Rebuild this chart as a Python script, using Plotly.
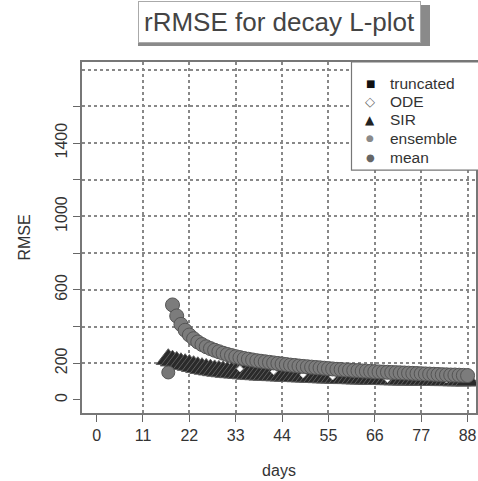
import plotly.graph_objects as go

# ---------------- data ----------------
mean_days = list(range(18, 89))
mean_vals = [518, 458, 412, 380, 354, 334, 316, 302, 290, 280, 271, 263, 255, 248, 242, 236,
             231, 226, 222, 218, 214, 211, 208, 205, 202, 199, 196, 193, 190, 188, 185, 183,
             181, 179, 177, 175, 173, 171, 169, 167, 166, 164, 163, 161, 160, 158, 157, 156,
             154, 153, 152, 151, 150, 149, 148, 147, 146, 145, 144, 143, 142, 141, 140, 139,
             138, 137, 136, 136, 135, 134, 133]

sir_days = list(range(17, 89))
sir_vals = [222, 214, 207, 200, 195, 190, 184, 178, 173, 169, 165, 161, 158, 155, 152, 150,
            148, 146, 144, 142, 140, 139, 137, 136, 135, 134, 133, 132, 131, 130, 129, 128,
            127, 126, 125, 124, 123, 122, 121, 121, 120, 119, 118, 118, 117, 116, 116, 115,
            114, 114, 113, 113, 112, 112, 111, 111, 110, 110, 110, 109, 109, 109, 108, 108,
            108, 107, 107, 107, 106, 106, 106, 105]

ode_days = [34, 42, 49, 56, 69, 83]
ode_vals = [170, 155, 137, 127, 112, 110]

ens_days = [17]
ens_vals = [150]

series_names = ["truncated", "ODE", "SIR", "ensemble", "mean"]
legend_glyphs = ["■", "◇", "▲", "●", "●"]
legend_colors = ["#111", "#666", "#222", "#8a8a8a", "#666"]
legend_sizes = [10, 13, 12, 9, 10]

x_ticks = [0, 11, 22, 33, 44, 55, 66, 77, 88]
x_grid = [11, 22, 33, 44, 55, 66, 77, 88]
y_ticks = [0, 200, 400, 600, 800, 1000, 1200, 1400, 1600]
y_labels = ["0", "200", "", "600", "", "1000", "", "1400", ""]
y_grid = [200, 400, 600, 800, 1000, 1200, 1400, 1600, 1800]

X_RANGE = [-3.47, 90.0]
Y_RANGE = [-71, 1842]

FONT = "Liberation Sans, Arial, sans-serif"

fig = go.Figure()

fig.add_trace(go.Scatter(x=sir_days, y=sir_vals, mode="markers", name="SIR",
                         marker=dict(symbol="triangle-up", color="#2a2a2a", size=21,
                                     line=dict(color="#5e5e5e", width=1))))
fig.add_trace(go.Scatter(x=ode_days, y=ode_vals, mode="markers", name="ODE",
                         marker=dict(symbol="diamond", color="white", size=5,
                                     line=dict(color="#bbb", width=1))))
fig.add_trace(go.Scatter(x=ens_days, y=ens_vals, mode="markers", name="ensemble",
                         marker=dict(symbol="circle", color="#777", size=13,
                                     line=dict(color="#555", width=1))))
fig.add_trace(go.Scatter(x=mean_days, y=mean_vals, mode="markers", name="mean",
                         marker=dict(symbol="circle", color="#7c7c7c", size=14,
                                     line=dict(color="#555", width=1))))
# invisible trace carrying the dotted-grid overlay axes
fig.add_trace(go.Scatter(x=[None], y=[None], xaxis="x2", yaxis="y2",
                         showlegend=False, hoverinfo="skip"))

fig.update_layout(
    width=478, height=481,
    margin=dict(l=82, r=0, t=62, b=68),
    paper_bgcolor="white", plot_bgcolor="white",
    font=dict(family=FONT, color="#333"),
    showlegend=False,
    xaxis=dict(range=X_RANGE, tickmode="array", tickvals=x_ticks,
               ticks="outside", ticklen=7, tickcolor="#666",
               showgrid=False, zeroline=False,
               showline=True, linecolor="#777", linewidth=1.5, mirror=True,
               tickfont=dict(size=16, color="#333"),
               title=dict(text="days", font=dict(size=16, color="#333"), standoff=22)),
    yaxis=dict(range=Y_RANGE, tickmode="array", tickvals=y_ticks, ticktext=y_labels,
               tickangle=-90, ticks="outside", ticklen=7, tickcolor="#666",
               showgrid=False, zeroline=False,
               showline=True, linecolor="#777", linewidth=1.5, mirror=True,
               tickfont=dict(size=16, color="#333"),
               title=dict(text="RMSE", font=dict(size=16, color="#333"), standoff=18)),
    xaxis2=dict(range=X_RANGE, overlaying="x", tickmode="array", tickvals=x_grid,
                showticklabels=False, ticks="", showgrid=True, gridcolor="#888",
                griddash="dot", gridwidth=1.5, zeroline=False, showline=False),
    yaxis2=dict(range=Y_RANGE, overlaying="y", tickmode="array", tickvals=y_grid,
                showticklabels=False, ticks="", showgrid=True, gridcolor="#888",
                griddash="dot", gridwidth=1.5, zeroline=False, showline=False),
)

# ---- legend box (top-right, R style) ----
fig.add_shape(type="rect", xref="paper", yref="paper", x0=0.684, x1=1.02, y0=0.692, y1=1.0,
              fillcolor="white", line=dict(color="#777", width=1.2), layer="above")
row_y = [0.940, 0.887, 0.835, 0.783, 0.729]
for nm, gl, col, sz, yy in zip(series_names, legend_glyphs, legend_colors, legend_sizes, row_y):
    fig.add_annotation(text=gl, xref="paper", yref="paper", x=0.732, y=yy,
                       xanchor="center", yanchor="middle", showarrow=False,
                       font=dict(size=sz, color=col, family="DejaVu Sans"))
    fig.add_annotation(text=nm, xref="paper", yref="paper", x=0.776, y=yy,
                       xanchor="left", yanchor="middle", showarrow=False,
                       font=dict(size=15.5, color="#333", family=FONT))

# title box shadow (shape) + title
fig.add_shape(type="rect", xref="paper", yref="paper", xsizemode="pixel", ysizemode="pixel",
              xanchor=0.5, yanchor=1, x0=-141, x1=151, y0=16, y1=57,
              fillcolor="#8a8a8a", line=dict(width=0), layer="above")
fig.add_annotation(text="rRMSE for decay L-plot", xref="paper", yref="paper", x=0.5, y=1,
                   yanchor="bottom", yshift=19, showarrow=False,
                   font=dict(size=26, color="#444", family=FONT),
                   bgcolor="white", borderpad=5, borderwidth=1, bordercolor="#aaa")

fig.write_html("out.html")
